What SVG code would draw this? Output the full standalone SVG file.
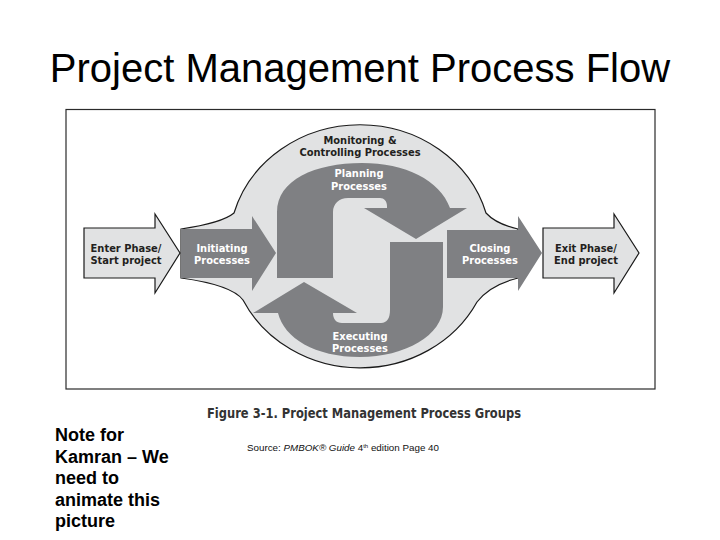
<svg xmlns="http://www.w3.org/2000/svg" width="720" height="540" viewBox="0 0 720 540">
<style>
.bg{fill:#ffffff}
.title{font-family:"Liberation Sans",Arial,sans-serif;font-size:40px;fill:#000}
.frame{fill:#ffffff;stroke:#2b2b2b;stroke-width:1.2}
.blob{fill:#e1e2e3;stroke:#1a1a1a;stroke-width:1.2}
.light{fill:#e1e2e3;stroke:#1a1a1a;stroke-width:1.2;stroke-linejoin:miter}
.dark{fill:#7f8083}
.lbl{font-family:"Liberation Sans Narrow","DejaVu Sans Condensed","Arial Narrow",sans-serif;font-weight:bold;font-size:11px;text-anchor:middle}
.w{fill:#ffffff}
.k{fill:#231f20}
.cap{font-family:"Liberation Sans Narrow","DejaVu Sans Condensed","Arial Narrow",sans-serif;font-weight:bold;font-size:14px;fill:#333333}
.src{font-family:"Liberation Sans",Arial,sans-serif;font-size:9.8px;fill:#111}
.note{font-family:"Liberation Sans",Arial,sans-serif;font-weight:bold;font-size:18px;fill:#000}
</style>
<rect class="bg" x="0" y="0" width="720" height="540"/>
<text class="title" x="360" y="82" text-anchor="middle">Project Management Process Flow</text>
<rect class="frame" x="66" y="109.5" width="589" height="279.5"/>

<g id="monitoring">
  <path class="blob" d="M181,229 Q222,223 234,213 A131,121.5 0 0 1 486,213 Q496,224 518,229 L518,278 Q490,285 477,302 A131,121.5 0 0 1 243,300 Q232,285 181,278 Z"/>
  <text class="lbl k" x="360" y="143.5">Monitoring &amp;</text>
  <text class="lbl k" x="360" y="156">Controlling Processes</text>
</g>

<g id="enter">
  <path class="light" d="M84,228 L155,228 L155,214 L180,253 L155,293 L155,278 L84,278 Z"/>
  <text class="lbl k" x="126" y="251.5">Enter Phase/</text>
  <text class="lbl k" x="126" y="264">Start project</text>
</g>

<g id="exit">
  <path class="light" d="M543,228 L614,228 L614,214 L639,253 L614,293 L614,278 L543,278 Z"/>
  <text class="lbl k" x="586" y="251.5">Exit Phase/</text>
  <text class="lbl k" x="586" y="264">End project</text>
</g>

<g id="initiating">
  <path class="dark" d="M181,229 L252,229 L252,216 L276,253 L252,291 L252,278 L181,278 Z"/>
  <text class="lbl w" x="222" y="251.5">Initiating</text>
  <text class="lbl w" x="222" y="264">Processes</text>
</g>

<g id="closing">
  <path class="dark" d="M447,230 L518,230 L518,216 L542,253 L518,291 L518,278 L447,278 Z"/>
  <text class="lbl w" x="490" y="251.5">Closing</text>
  <text class="lbl w" x="490" y="264">Processes</text>
</g>

<g id="planning">
  <path class="dark" d="M277,278 L277,212 C277,180 315,163 362,163 C405,163 440,180 450,208 L467,208 L416,239 L364,208 L387,208 L387,206 C387,201 384,198 380,198 L348,198 C339,198 333,204 333,212 L333,278 Z"/>
  <text class="lbl w" x="359" y="177">Planning</text>
  <text class="lbl w" x="359" y="189.5">Processes</text>
</g>

<g id="executing">
  <path class="dark" d="M443,242 L443,307 C443,335 405,357 360,357 C315,357 284,338 278,313 L253,313 L304,282 L357,313 L333,313 C333,319 336,323 342,323 L381,323 C387,323 390,318 390,310 L390,242 Z"/>
  <text class="lbl w" x="360" y="339.5">Executing</text>
  <text class="lbl w" x="360" y="352">Processes</text>
</g>

<text class="cap" x="207" y="418" textLength="314" lengthAdjust="spacingAndGlyphs">Figure 3-1. Project Management Process Groups</text>
<text class="src" x="247" y="451">Source: <tspan font-style="italic">PMBOK® Guide</tspan> 4<tspan font-size="6" dy="-3">th</tspan><tspan dy="3"> edition Page 40</tspan></text>

<g id="note">
  <text class="note" x="55" y="441">Note for</text>
  <text class="note" x="55" y="463">Kamran – We</text>
  <text class="note" x="55" y="484">need to</text>
  <text class="note" x="55" y="506">animate this</text>
  <text class="note" x="55" y="527">picture</text>
</g>
</svg>
